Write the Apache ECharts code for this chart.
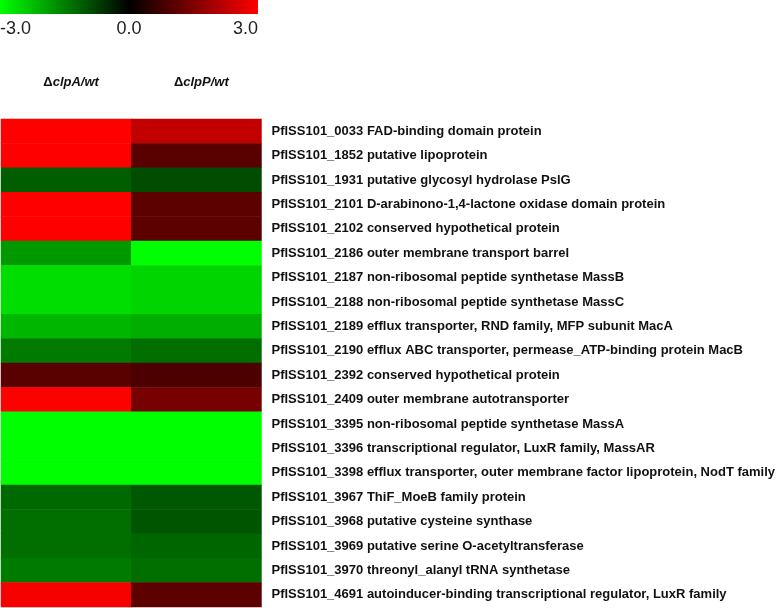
<!DOCTYPE html>
<html>
<head>
<meta charset="utf-8">
<script src="https://cdn.jsdelivr.net/npm/echarts@6/dist/echarts.min.js"></script>
<style>html,body{margin:0;padding:0;background:#fff}#c{width:778px;height:608px}</style>
</head>
<body>
<div id="c"></div>
<script>
var columns = ['\u0394clpA/wt', '\u0394clpP/wt'];
var genes = [
  'PflSS101_0033 FAD-binding domain protein',
  'PflSS101_1852 putative lipoprotein',
  'PflSS101_1931 putative glycosyl hydrolase PslG',
  'PflSS101_2101 D-arabinono-1,4-lactone oxidase domain protein',
  'PflSS101_2102 conserved hypothetical protein',
  'PflSS101_2186 outer membrane transport barrel',
  'PflSS101_2187 non-ribosomal peptide synthetase MassB',
  'PflSS101_2188 non-ribosomal peptide synthetase MassC',
  'PflSS101_2189 efflux transporter, RND family, MFP subunit MacA',
  'PflSS101_2190 efflux ABC transporter, permease_ATP-binding protein MacB',
  'PflSS101_2392 conserved hypothetical protein',
  'PflSS101_2409 outer membrane autotransporter',
  'PflSS101_3395 non-ribosomal peptide synthetase MassA',
  'PflSS101_3396 transcriptional regulator, LuxR family, MassAR',
  'PflSS101_3398 efflux transporter, outer membrane factor lipoprotein, NodT family',
  'PflSS101_3967 ThiF_MoeB family protein',
  'PflSS101_3968 putative cysteine synthase',
  'PflSS101_3969 putative serine O-acetyltransferase',
  'PflSS101_3970 threonyl_alanyl tRNA synthetase',
  'PflSS101_4691 autoinducer-binding transcriptional regulator, LuxR family'
];
var clpA = [3.0, 3.0, -1.1, 3.0, 3.0, -1.8, -2.6, -2.6, -2.15, -1.45, 1.05, 3.0, -3.0, -3.0, -3.0, -1.25, -1.3, -1.3, -1.45, 2.9];
var clpP = [2.3, 1.05, -0.9, 1.1, 1.1, -3.0, -2.5, -2.5, -2.05, -1.3, 0.9, 1.4, -3.0, -3.0, -3.0, -1.05, -1.0, -1.2, -1.3, 1.1];
var scaleTicks = ['-3.0', '0.0', '3.0'];
var scaleColors = ['#00ff00', '#000000', '#ff0000'];
var scaleMin = -3, scaleMax = 3;

var data = [];
for (var i = 0; i < genes.length; i++) {
  data.push([0, i, clpA[i]]);
  data.push([1, i, clpP[i]]);
}

var chart = echarts.init(document.getElementById('c'), null, {renderer: 'canvas'});
var barLeft = 0, barWidth = 258, barTop = 0, barHeight = 14;
var graphics = [{
  type: 'rect',
  shape: {x: barLeft, y: barTop, width: barWidth, height: barHeight},
  style: {
    fill: new echarts.graphic.LinearGradient(0, 0, 1, 0, scaleColors.map(function (c, k) {
      return {offset: k / (scaleColors.length - 1), color: c};
    }))
  }
}];
scaleTicks.forEach(function (t, k) {
  var frac = k / (scaleTicks.length - 1);
  graphics.push({
    type: 'text',
    x: barLeft + frac * barWidth,
    y: 29,
    style: {
      text: t,
      font: '18px "Liberation Sans", Arial, sans-serif',
      fill: '#222',
      align: k === 0 ? 'left' : (k === scaleTicks.length - 1 ? 'right' : 'center'),
      verticalAlign: 'middle'
    }
  });
});

chart.setOption({
  animation: false,
  backgroundColor: '#fff',
  grid: {left: 1, top: 119, width: 261, height: 488},
  xAxis: {
    type: 'category',
    data: columns,
    position: 'top',
    axisLine: {show: false},
    axisTick: {show: false},
    splitLine: {show: false},
    axisLabel: {
      margin: 30,
      formatter: function (v) { return '{d|\u0394}{t|' + v.slice(1) + '}'; },
      rich: {
        d: {fontFamily: '"Liberation Sans", Arial', fontWeight: 'bold', fontSize: 13, color: '#111', padding: [0, 0, 0, 10]},
        t: {fontFamily: '"Liberation Sans", Arial', fontWeight: 'bold', fontStyle: 'italic', fontSize: 13, color: '#111'}
      }
    }
  },
  yAxis: {
    type: 'category',
    data: genes,
    inverse: true,
    position: 'right',
    axisLine: {show: false},
    axisTick: {show: false},
    splitLine: {show: false},
    axisLabel: {
      margin: 10,
      fontFamily: '"Liberation Sans", Arial',
      fontWeight: 'bold',
      fontSize: 13,
      color: '#111'
    }
  },
  visualMap: {
    type: 'continuous',
    min: scaleMin,
    max: scaleMax,
    show: false,
    inRange: {color: scaleColors}
  },
  graphic: graphics,
  series: [{
    type: 'heatmap',
    data: data,
    itemStyle: {borderWidth: 0},
    emphasis: {disabled: true}
  }]
});
</script>
</body>
</html>
